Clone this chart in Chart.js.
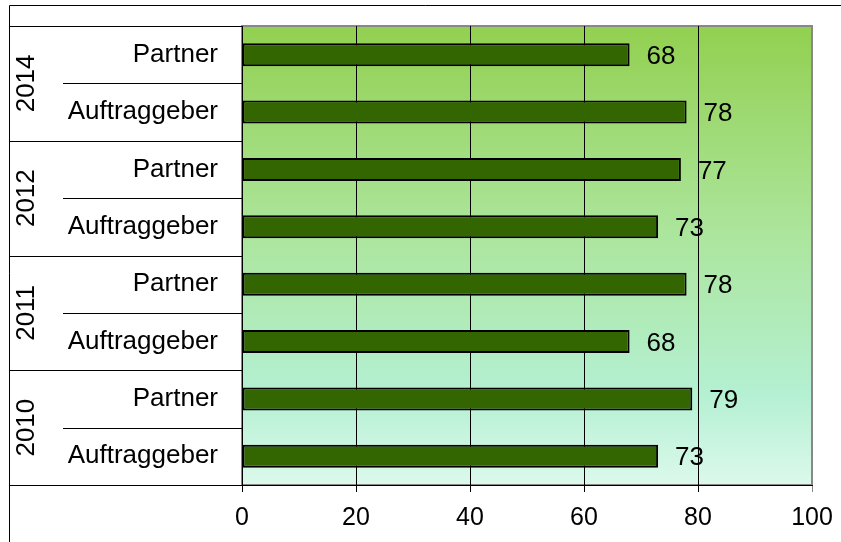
<!DOCTYPE html>
<html>
<head>
<meta charset="utf-8">
<script src="https://cdn.jsdelivr.net/npm/chart.js@4"></script>
<style>
  html, body { margin: 0; padding: 0; background: #fff; }
  #wrap { width: 841px; height: 542px; position: relative; }
</style>
</head>
<body>
<div id="wrap"><canvas id="myChart" width="841" height="542"></canvas></div>
<script>
// data, top to bottom
const years = ['2014', '2012', '2011', '2010'];
const roles = ['Partner', 'Auftraggeber'];
const values = [68, 78, 77, 73, 78, 68, 79, 73];
const xTicks = [0, 20, 40, 60, 80, 100];

const labels = [];
years.forEach(y => roles.forEach(r => labels.push(r + ' ' + y)));

const FONT = '"Liberation Sans", Arial, sans-serif';

// plot background gradient + frame lines
const bgPlugin = {
  id: 'bg',
  beforeDraw(chart) {
    const { ctx, chartArea: a } = chart;
    const g = ctx.createLinearGradient(0, a.top, 0, a.bottom);
    g.addColorStop(0, '#92d050');
    g.addColorStop(0.45, '#ace59c');
    g.addColorStop(0.8, '#b4f0d2');
    g.addColorStop(1, '#dcf9ec');
    ctx.save();
    ctx.fillStyle = g;
    ctx.fillRect(a.left, a.top, a.right - a.left, a.bottom - a.top);
    ctx.strokeStyle = '#888';
    ctx.lineWidth = 2;
    ctx.strokeRect(a.left, a.top, a.right - a.left, a.bottom - a.top);
    ctx.restore();
  }
};

// category labels, year groups, separators, value labels
const labelPlugin = {
  id: 'labels',
  afterDraw(chart) {
    const { ctx, chartArea: a } = chart;
    const yScale = chart.scales.y;
    const band = (a.bottom - a.top) / labels.length;
    ctx.save();
    ctx.fillStyle = '#000';
    ctx.strokeStyle = '#000';
    ctx.lineWidth = 1;
    ctx.font = '26px ' + FONT;

    // outer frame
    ctx.beginPath();
    ctx.moveTo(9.5, 542); ctx.lineTo(9.5, 5.5); ctx.lineTo(841, 5.5);
    ctx.moveTo(9, a.top + 0.5); ctx.lineTo(a.left, a.top + 0.5);
    ctx.moveTo(9, a.bottom + 0.5); ctx.lineTo(a.right, a.bottom + 0.5);
    ctx.stroke();

    // role labels
    ctx.textAlign = 'right';
    ctx.textBaseline = 'middle';
    labels.forEach((l, i) => {
      const y = yScale.getPixelForValue(i);
      ctx.fillText(roles[i % roles.length], 218, y);
    });

    // separators
    ctx.beginPath();
    for (let i = 1; i < labels.length; i++) {
      const y = Math.round(a.top + band * i) + 0.5;
      const x0 = i % roles.length === 0 ? 9 : 63;
      ctx.moveTo(x0, y); ctx.lineTo(a.left, y);
    }
    ctx.stroke();

    // years, rotated
    years.forEach((yr, j) => {
      const yc = a.top + band * (j * roles.length + roles.length / 2);
      ctx.save();
      ctx.translate(34, yc);
      ctx.rotate(-Math.PI / 2);
      ctx.textAlign = 'center';
      ctx.textBaseline = 'alphabetic';
      ctx.fillText(yr, 0, 0);
      ctx.restore();
    });

    // value labels
    const meta = chart.getDatasetMeta(0);
    ctx.textAlign = 'left';
    ctx.textBaseline = 'middle';
    meta.data.forEach((bar, i) => {
      ctx.fillText(String(values[i]), bar.x + 17, bar.y + 2);
    });
    ctx.restore();
  }
};

const ctx = document.getElementById('myChart').getContext('2d');
const myChart = new Chart(ctx, {
  type: 'bar',
  data: {
    labels: labels,
    datasets: [{
      label: '',
      data: values,
      backgroundColor: '#336600',
      borderColor: '#000',
      borderWidth: 2,
      borderSkipped: false,
      barPercentage: 0.4,
      categoryPercentage: 1
    }]
  },
  options: {
    indexAxis: 'y',
    responsive: false,
    animation: false,
    layout: { padding: { top: 26, right: 29, left: 0, bottom: 0 } },
    plugins: {
      legend: { display: false },
      tooltip: { enabled: false }
    },
    scales: {
      x: {
        min: 0,
        max: 100,
        afterBuildTicks(scale) { scale.ticks = xTicks.map(v => ({ value: v })); },
        afterFit(scale) {
          scale.height = 542 - 485;
          scale.paddingRight = 0;
          scale.paddingLeft = 0;
        },
        grid: {
          color: c => (c.tick && c.tick.value === 100) ? '#888' : '#000',
          lineWidth: 1,
          tickLength: 7,
          drawTicks: true
        },
        border: { display: true, color: '#000' },
        ticks: {
          color: '#000',
          font: { family: FONT, size: 25 },
          padding: 11
        }
      },
      y: {
        afterFit(scale) { scale.width = 242; },
        grid: { display: false },
        border: { display: false },
        ticks: { display: false }
      }
    }
  },
  plugins: [bgPlugin, labelPlugin]
});
</script>
</body>
</html>
